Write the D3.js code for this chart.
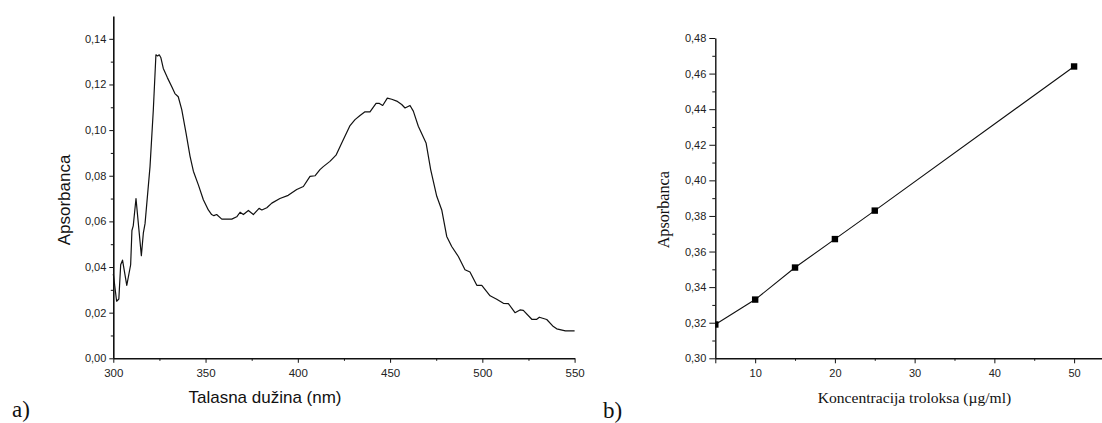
<!DOCTYPE html>
<html><head><meta charset="utf-8">
<script src="https://cdn.jsdelivr.net/npm/d3@7"></script>
<style>body{margin:0;background:#fff}svg{display:block}</style>
</head><body>
<svg id="c" width="1102" height="423"></svg>
<script>
// ---- Chart a) spectrum ----
const wavelength = [300,301.8,303,304,305,307.3,309.4,310.1,310.8,312.3,315.2,316.3,317.2,319.9,321.7,323.1,324,324.9,325.8,327.1,329.3,331.7,333.4,335.2,337.1,339.4,341.6,343.4,346.1,348.8,351.5,353.3,354.5,356,358.8,364.2,366.9,368.7,370.5,373.2,375.9,379,380.5,383.2,385.9,390.3,394.8,399.4,403,406.6,409.4,412,413.8,417.4,420.7,423.8,428.3,431,433.7,436.4,439.1,442.4,444.2,446,448.5,450.9,453.6,456.3,458.1,460.8,462.6,465.3,469.5,472,475.3,478,480.7,483.4,487,490.6,493.3,497,499.7,504.2,507.8,511.4,514.1,517.7,520.4,522.2,526.8,529.5,530.9,534.9,538.5,540.3,545,550];
const absorbanceA = [0.037,0.025,0.026,0.041,0.043,0.032,0.041,0.056,0.058,0.070,0.045,0.055,0.059,0.084,0.109,0.133,0.1325,0.133,0.1317,0.127,0.123,0.119,0.116,0.1146,0.109,0.0988,0.0885,0.082,0.076,0.0695,0.065,0.063,0.0625,0.063,0.061,0.061,0.062,0.064,0.063,0.0648,0.063,0.0657,0.065,0.066,0.068,0.070,0.0714,0.074,0.0753,0.0797,0.080,0.0827,0.084,0.0863,0.089,0.0944,0.102,0.1046,0.1064,0.108,0.108,0.1117,0.1117,0.1108,0.114,0.1135,0.1127,0.1112,0.1097,0.1108,0.1083,0.1017,0.0944,0.0827,0.071,0.065,0.0534,0.049,0.0446,0.0388,0.0378,0.032,0.032,0.0274,0.0259,0.0241,0.024,0.020,0.0212,0.021,0.0171,0.0171,0.018,0.017,0.0139,0.0129,0.012,0.012];
const xTicksA = [300,350,400,450,500,550];
const yTicksA = [0,0.02,0.04,0.06,0.08,0.10,0.12,0.14];

// ---- Chart b) calibration ----
const concentration = [5,10,15,20,25,50];
const absorbanceB = [0.319,0.333,0.351,0.367,0.383,0.464];
const xTicksB = [10,20,30,40,50];
const yTicksB = [0.30,0.32,0.34,0.36,0.38,0.40,0.42,0.44,0.46,0.48];

const svg = d3.select("#c");
const fmt2 = d => d3.format(".2f")(d).replace(".", ",");
const sans = "'Liberation Sans', Arial, sans-serif";
const serif = "'Liberation Serif', 'Times New Roman', serif";
const ink = "#111";

function styleAxis(g, fs, sw){
  g.select(".domain").attr("stroke", ink).attr("stroke-width", sw);
  g.selectAll(".tick line").attr("stroke", ink).attr("stroke-width", 1);
  g.selectAll("text").attr("font-family", sans).attr("font-size", fs).attr("fill", "#222");
}

// ===== a) =====
const xA = d3.scaleLinear().domain([300,550]).range([113.3,574.6]);
const yA = d3.scaleLinear().domain([0,0.15]).range([358.3,16]);
const gA = svg.append("g");
// minor ticks
gA.append("g").attr("transform","translate(0,358.3)")
  .call(d3.axisBottom(xA).tickValues(d3.range(325,550,50)).tickSize(2.5).tickFormat("").tickSizeOuter(0))
  .call(g=>{g.select(".domain").remove(); g.selectAll("line").attr("stroke",ink);});
gA.append("g").attr("transform","translate(113.3,0)")
  .call(d3.axisLeft(yA).tickValues(d3.range(0.01,0.15,0.02)).tickSize(2.5).tickFormat("").tickSizeOuter(0))
  .call(g=>{g.select(".domain").remove(); g.selectAll("line").attr("stroke",ink);});
gA.append("g").attr("transform","translate(0,358.3)")
  .call(d3.axisBottom(xA).tickValues(xTicksA).tickSize(4.5).tickPadding(6).tickSizeOuter(0))
  .call(g=>styleAxis(g, 11.5, 1.6));
gA.append("g").attr("transform","translate(113.3,0)")
  .call(d3.axisLeft(yA).tickValues(yTicksA).tickSize(4).tickPadding(3).tickFormat(fmt2).tickSizeOuter(0))
  .call(g=>styleAxis(g, 11, 1.6));
gA.append("path")
  .datum(wavelength.map((w,i)=>[w, absorbanceA[i]]))
  .attr("fill","none").attr("stroke",ink).attr("stroke-width",1.2)
  .attr("stroke-linejoin","round")
  .attr("d", d3.line().x(d=>xA(d[0])).y(d=>yA(d[1])));
gA.append("text").attr("x",265).attr("y",403).attr("text-anchor","middle")
  .attr("font-family",sans).attr("font-size",17).attr("fill","#111").text("Talasna dužina (nm)");
gA.append("text").attr("transform","translate(69.5,200) rotate(-90)").attr("text-anchor","middle")
  .attr("font-family",sans).attr("font-size",17).attr("fill","#111").text("Apsorbanca");
svg.append("text").attr("x",12).attr("y",417).attr("font-family",serif).attr("font-size",23)
  .attr("fill","#111").text("a)");

// ===== b) =====
const xB = d3.scaleLinear().domain([5,53.5]).range([715.3,1102]);
const yB = d3.scaleLinear().domain([0.30,0.48]).range([358.3,38]);
const gB = svg.append("g");
gB.append("defs").append("clipPath").attr("id","clipB").append("rect")
  .attr("x",715.3).attr("y",30).attr("width",400).attr("height",330);
gB.append("g").attr("transform","translate(0,358.3)")
  .call(d3.axisBottom(xB).tickValues([15,25,35,45]).tickSize(2.5).tickFormat("").tickSizeOuter(0))
  .call(g=>{g.select(".domain").remove(); g.selectAll("line").attr("stroke",ink);});
gB.append("g").attr("transform","translate(715.3,0)")
  .call(d3.axisLeft(yB).tickValues(d3.range(0.31,0.48,0.02)).tickSize(3).tickFormat("").tickSizeOuter(0))
  .call(g=>{g.select(".domain").remove(); g.selectAll("line").attr("stroke",ink);});
gB.append("g").attr("transform","translate(0,358.3)")
  .call(d3.axisBottom(xB).tickValues([5].concat(xTicksB)).tickSize(5).tickPadding(6).tickSizeOuter(0)
        .tickFormat(d=> d===5 ? "" : d))
  .call(g=>styleAxis(g, 11, 1.4));
gB.append("g").attr("transform","translate(715.3,0)")
  .call(d3.axisLeft(yB).tickValues(yTicksB).tickSize(6).tickPadding(3).tickFormat(fmt2).tickSizeOuter(0))
  .call(g=>styleAxis(g, 11, 1.4));
const plotB = gB.append("g").attr("clip-path","url(#clipB)");
plotB.append("path")
  .datum(concentration.map((c,i)=>[c, absorbanceB[i]]))
  .attr("fill","none").attr("stroke",ink).attr("stroke-width",1.1)
  .attr("d", d3.line().x(d=>xB(d[0])).y(d=>yB(d[1])));
plotB.selectAll("rect.pt").data(concentration).join("rect").attr("class","pt")
  .attr("x",(d)=>xB(d)-3.2).attr("y",(d,i)=>yB(absorbanceB[i])-3.2)
  .attr("width",6.4).attr("height",6.4).attr("fill","#000");
gB.append("text").attr("x",914.5).attr("y",403).attr("text-anchor","middle")
  .attr("font-family",serif).attr("font-size",15.6).attr("fill","#111").text("Koncentracija troloksa (µg/ml)");
gB.append("text").attr("transform","translate(669,209.7) rotate(-90)").attr("text-anchor","middle")
  .attr("font-family",serif).attr("font-size",16.2).attr("fill","#111").text("Apsorbanca");
svg.append("text").attr("x",603).attr("y",418).attr("font-family",serif).attr("font-size",23)
  .attr("fill","#111").text("b)");
</script>
</body></html>
